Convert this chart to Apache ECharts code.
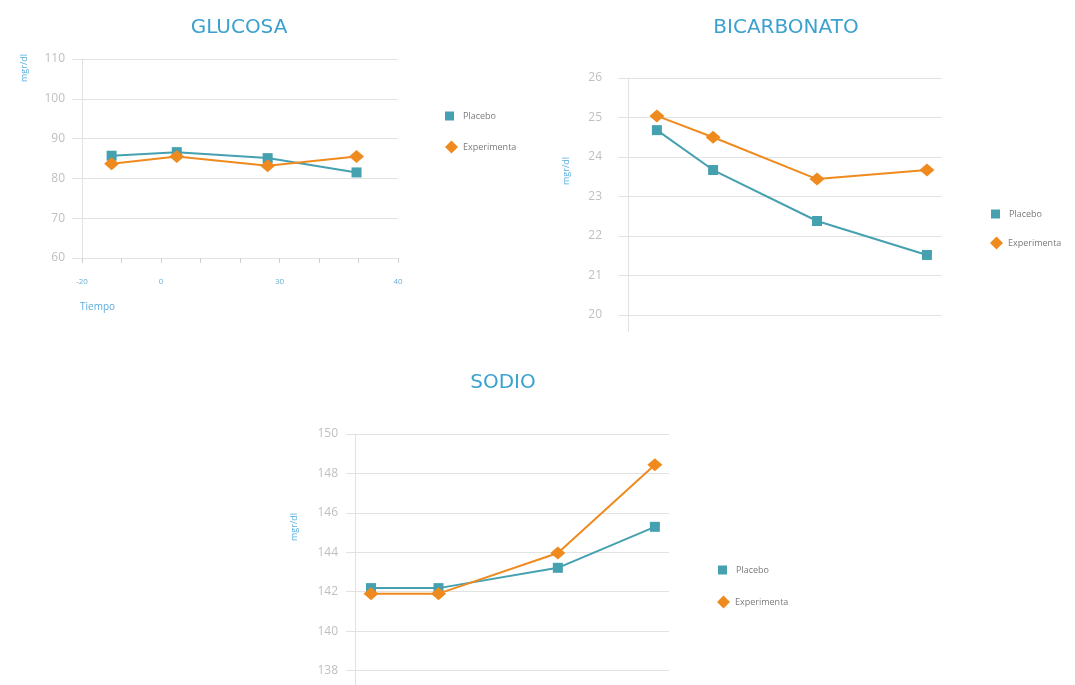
<!DOCTYPE html>
<html>
<head>
<meta charset="utf-8">
<script src="https://cdn.jsdelivr.net/npm/echarts@6/dist/echarts.min.js"></script>
<style>
html,body{margin:0;padding:0;background:#fff;}
#chart{width:1075px;height:685px;}
</style>
</head>
<body>
<div id="chart"></div>
<script>
// ---- data ----
const seriesNames = ['Placebo', 'Experimenta'];
const titles = ['GLUCOSA', 'BICARBONATO', 'SODIO'];
const unitLabel = 'mgr/dl';
const timeLabel = 'Tiempo';

// Glucosa (x = tiempo)
const glucTime = [-12.5, 4, 27, 49.5];
const glucPlacebo = [85.7, 86.6, 85.1, 81.5];
const glucExp = [83.7, 85.5, 83.2, 85.5];
const glucXTickValues = [-20, 0, 30, 60];
const glucXTickLabels = ['-20', '0', '30', '40'];
const glucYTicks = [60, 70, 80, 90, 100, 110];

// Bicarbonato (x positions relative, hidden axis 0-100)
const bicX = [9.2, 27.1, 60.2, 95.2];
const bicPlacebo = [24.68, 23.67, 22.38, 21.52];
const bicExp = [25.04, 24.5, 23.44, 23.67];
const bicYTicks = [20, 21, 22, 23, 24, 25, 26];

// Sodio (x positions relative, hidden axis 0-100)
const sodX = [5.1, 26.6, 64.6, 95.5];
const sodPlacebo = [142.18, 142.18, 143.21, 145.29];
const sodExp = [141.9, 141.9, 143.96, 148.44];
const sodYTicks = [138, 140, 142, 144, 146, 148, 150];

// ---- styles ----
const TEAL = '#45a0af';
const ORANGE = '#ef8a1f';
const BLUE = '#3ba1cf';
const GRID = '#e2e2e2';
const LABEL = '#bfbfbf';
const FONT = '"Open Sans", "DejaVu Sans", sans-serif';

function pairs(xs, ys) { return xs.map((x, i) => [x, ys[i]]); }

function yAxisCfg(idx, ticks, interval, margin, tickLen) {
  return {
    type: 'value', gridIndex: idx, min: ticks[0], max: ticks[ticks.length - 1], interval: interval,
    axisLine: {show: true, onZero: false, lineStyle: {color: GRID, width: 1}},
    axisTick: {show: true, length: tickLen, lineStyle: {color: GRID}},
    splitLine: {show: true, lineStyle: {color: GRID, width: 1}},
    axisLabel: {color: LABEL, fontSize: 12, fontFamily: FONT, margin: margin}
  };
}

function lineSeries(name, xi, yi, data, isPlacebo) {
  return {
    name: name, type: 'line', xAxisIndex: xi, yAxisIndex: yi,
    data: data,
    symbol: isPlacebo ? 'rect' : 'diamond',
    symbolSize: isPlacebo ? [10, 10] : [15, 13],
    itemStyle: {color: isPlacebo ? TEAL : ORANGE},
    lineStyle: {color: isPlacebo ? TEAL : ORANGE, width: 2},
    z: isPlacebo ? 3 : 4,
    animation: false
  };
}

function legendCfg(name, left, centerY) {
  const isP = name === 'Placebo';
  return {
    data: [{name: name, icon: isP ? 'rect' : 'diamond'}],
    left: left, top: centerY - 6.5, orient: 'vertical', padding: 0,
    itemWidth: isP ? 9 : 13, itemHeight: isP ? 9 : 13,
    selectedMode: false,
    textStyle: {color: '#7a7a7a', fontSize: 9, fontFamily: FONT, padding: isP ? [0, 0, 0, 4] : 0}
  };
}

const titleStyle = {color: BLUE, fontSize: 20, fontWeight: 'normal', fontFamily: '"DejaVu Sans", sans-serif'};

const option = {
  backgroundColor: '#ffffff',
  animation: false,
  title: [
    {text: titles[0], left: 234, top: 13, textAlign: 'center', textStyle: titleStyle},
    {text: titles[1], left: 781, top: 13, textAlign: 'center', textStyle: titleStyle},
    {text: titles[2], left: 498, top: 368, textAlign: 'center', textStyle: titleStyle}
  ],
  grid: [
    {left: 82, top: 59, width: 316, height: 199},
    {left: 628, top: 78, width: 314, height: 237},
    {left: 355, top: 434, width: 314, height: 236.5}
  ],
  xAxis: [
    {type: 'value', gridIndex: 0, min: -20, max: 60, interval: 10,
     axisLine: {show: true, onZero: false, lineStyle: {color: GRID}},
     axisTick: {show: true, length: 5, lineStyle: {color: '#d0d0d0'}},
     splitLine: {show: false},
     axisLabel: {color: '#6aaed6', fontSize: 8, fontFamily: FONT, margin: 20, showMinLabel: true, showMaxLabel: true,
       formatter: function (v) { const k = glucXTickValues.indexOf(v); return k >= 0 ? glucXTickLabels[k] : ''; }}},
    {type: 'value', gridIndex: 1, min: 0, max: 100, show: false},
    {type: 'value', gridIndex: 2, min: 0, max: 100, show: false}
  ],
  yAxis: [
    yAxisCfg(0, glucYTicks, 10, 17, 10),
    yAxisCfg(1, bicYTicks, 1, 26, 10),
    yAxisCfg(2, sodYTicks, 2, 17, 9)
  ],
  legend: [
    legendCfg('Placebo', 445, 118),
    legendCfg('Experimenta', 445, 147),
    legendCfg('Placebo', 991, 216),
    legendCfg('Experimenta', 990, 243),
    legendCfg('Placebo', 718, 572),
    legendCfg('Experimenta', 717, 602)
  ],
  graphic: [
    {type: 'text', x: 24, y: 68, rotation: Math.PI / 2,
     style: {text: unitLabel, fill: '#5aaee0', font: '9px ' + FONT, textAlign: 'center', textVerticalAlign: 'middle'}},
    {type: 'text', x: 566, y: 171, rotation: Math.PI / 2,
     style: {text: unitLabel, fill: '#5aaee0', font: '9px ' + FONT, textAlign: 'center', textVerticalAlign: 'middle'}},
    {type: 'text', x: 294, y: 527, rotation: Math.PI / 2,
     style: {text: unitLabel, fill: '#5aaee0', font: '9px ' + FONT, textAlign: 'center', textVerticalAlign: 'middle'}},
    {type: 'text', x: 80, y: 307,
     style: {text: timeLabel, fill: '#5aaee0', font: '10px ' + FONT, textAlign: 'left', textVerticalAlign: 'middle'}}
  ],
  series: [
    lineSeries(seriesNames[0], 0, 0, pairs(glucTime, glucPlacebo), true),
    lineSeries(seriesNames[1], 0, 0, pairs(glucTime, glucExp), false),
    lineSeries(seriesNames[0], 1, 1, pairs(bicX, bicPlacebo), true),
    lineSeries(seriesNames[1], 1, 1, pairs(bicX, bicExp), false),
    lineSeries(seriesNames[0], 2, 2, pairs(sodX, sodPlacebo), true),
    lineSeries(seriesNames[1], 2, 2, pairs(sodX, sodExp), false)
  ]
};

const chart = echarts.init(document.getElementById('chart'), null, {renderer: 'canvas'});
chart.setOption(option);

// extend the y-axis lines of the lower two panels below their minimum, as in the original
function axisExtension(xi, yi, xMin, yMin, extra) {
  const p = chart.convertToPixel({xAxisIndex: xi, yAxisIndex: yi}, [xMin, yMin]);
  return {type: 'line', silent: true, z: 1,
    shape: {x1: Math.round(p[0]) + 0.5, y1: p[1], x2: Math.round(p[0]) + 0.5, y2: p[1] + extra},
    style: {stroke: GRID, lineWidth: 1}};
}
const ext = [
  axisExtension(1, 1, 0, bicYTicks[0], 17),
  axisExtension(2, 2, 0, sodYTicks[0], 20)
];
chart.setOption({graphic: option.graphic.concat(ext)});
</script>
</body>
</html>
